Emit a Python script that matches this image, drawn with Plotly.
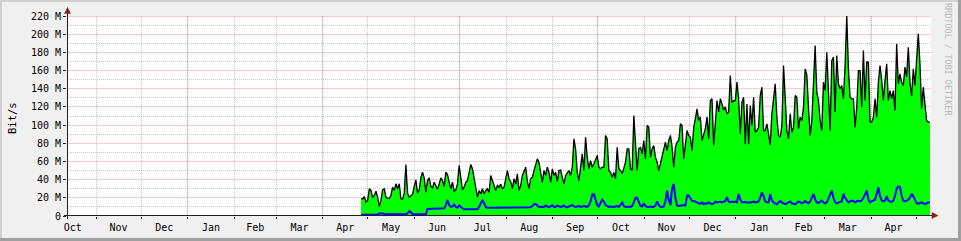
import math
import pandas as pd
import plotly.graph_objects as go

# ---------------- data (Mbit/s) ----------------
inbound_mbps = [
    # late Apr - Jun
    18.9, 18.9, 21.4, 15.2, 17.1, 29.9, 28.1, 20.1, 22.6, 27.3, 20.7, 10.4, 17.1, 28.8, 29.9, 20.7,
    19.6, 19.3, 22.6, 31.7, 28.1, 35.4, 29.9, 35.4, 18.9, 18.5, 25.1, 56.7, 25.1, 20.7, 22.2, 23.7,
    32.5, 39.8, 25.1, 28.8, 42.0, 48.2, 42.0, 26.2, 39.0, 42.0, 32.5, 31.0, 37.2, 33.5, 29.5, 35.4,
    42.0, 39.0, 32.5, 48.2, 45.6, 37.2, 29.9, 37.2, 27.3, 28.8, 35.4, 55.6, 43.5, 28.8, 31.7,
    # Jul - Aug
    37.0, 39.0, 50.0, 56.6, 52.0, 41.0, 28.0, 20.7, 28.0, 24.4, 30.0, 24.4, 28.0, 30.0, 26.0, 44.6,
    39.0, 33.5, 28.0, 33.5, 31.7, 35.0, 30.0, 31.7, 41.0, 50.0, 40.7, 38.0, 30.0, 41.0, 35.0, 46.4,
    28.0, 33.5, 44.6, 50.0, 53.7, 38.0, 30.0, 41.0, 42.6, 50.0, 57.4, 62.9, 59.0, 46.0, 37.0, 50.0,
    44.6, 53.7, 48.0, 37.0, 51.7, 44.6, 48.0, 38.0, 50.0, 50.6, 42.6, 35.0, 44.6, 48.0, 50.0, 44.6,
    # Sep - Oct
    53.7, 84.9, 73.9, 48.2, 39.0, 53.7, 68.4, 50.0, 86.7, 64.7, 52.0, 61.0, 53.7, 57.4, 62.9, 66.6,
    53.7, 52.0, 53.7, 53.7, 88.6, 84.9, 50.0, 48.0, 42.7, 48.0, 41.0, 75.7, 52.0, 50.0, 46.4, 52.0,
    59.2, 73.9, 73.9, 52.0, 50.0, 110.6, 72.0, 50.0, 73.9, 75.7, 68.4, 83.0, 62.9, 99.6, 97.8, 64.7,
    73.9, 77.5, 64.7, 59.2, 50.0, 57.4, 64.7, 73.9, 81.2, 72.0, 83.0, 88.6, 75.7, 53.7, 75.7,
    # Nov - Jan
    81.2, 83.0, 101.4, 99.6, 62.9, 83.0, 94.0, 88.6, 86.7, 72.0, 97.7, 106.9, 117.9, 105.0, 108.8,
    83.0, 90.5, 96.0, 108.8, 84.8, 127.0, 128.9, 77.6, 105.0, 127.0, 114.4, 129.0, 123.3, 116.3,
    120.0, 112.5, 114.4, 154.6, 124.8, 127.0, 127.0, 147.2, 129.0, 90.5, 125.0, 130.7, 79.0, 123.3,
    79.0, 121.6, 99.6, 130.7, 92.2, 94.0, 97.7, 132.5, 141.7, 94.0, 94.0, 101.4, 90.0, 78.0,
    # Jan - Mar
    112.4, 127.0, 145.4, 108.7, 88.6, 86.7, 99.6, 165.6, 134.4, 94.0, 84.9, 112.4, 92.2, 97.7,
    132.5, 130.7, 96.0, 108.7, 105.0, 119.7, 161.9, 155.0, 119.7, 88.6, 105.0, 155.0, 187.6, 136.2,
    127.0, 105.0, 94.0, 147.2, 138.0, 180.2, 136.0, 94.0, 171.0, 174.7, 114.2, 176.6, 145.4, 139.9,
    143.5, 128.9, 165.6, 221.0, 161.9, 130.7, 128.9, 128.9, 97.7,
    # Mar - May
    119.7, 160.0, 160.0, 119.7, 182.0, 127.0, 169.2, 169.2, 103.2, 103.2, 108.7, 128.9, 108.7,
    147.2, 165.6, 149.0, 127.0, 149.0, 167.4, 127.0, 138.0, 129.0, 138.0, 116.0, 189.4, 145.4,
    156.4, 147.0, 143.5, 163.7, 153.0, 185.7, 147.0, 131.8, 162.0, 143.5, 174.7, 200.4, 167.4,
    117.9, 141.7, 121.6, 105.0, 103.2, 103.2,
]

outbound_mbps = [
    1.3, 1.3, 1.3, 1.4, 1.3, 1.3, 1.4, 1.3, 1.3, 1.3,
    1.5, 3.0, 3.0, 2.8, 1.8, 1.8, 1.6, 1.6, 1.8, 1.6,
    1.6, 1.7, 1.6, 1.6, 1.8, 1.7, 1.6, 1.8, 3.0, 5.3,
    4.0, 2.0, 1.8, 1.8, 1.7, 1.7, 1.8, 1.8, 1.7, 1.8,
    7.8, 7.9, 7.8, 8.0, 7.9, 7.8, 8.0, 8.2, 7.9, 8.0,
    8.4, 12.0, 17.8, 12.0, 10.0, 10.5, 12.5, 10.0, 9.0, 11.5,
    9.5, 8.5, 7.5, 7.5, 7.8, 7.5, 7.2, 7.2, 7.0, 7.2,
    7.5, 10.0, 15.0, 17.8, 14.0, 10.0, 9.0, 9.5, 9.2, 9.0,
    9.0, 8.8, 9.0, 9.0, 9.0, 8.8, 9.0, 9.0, 9.2, 9.0,
    9.0, 9.0, 9.2, 9.0, 9.0, 9.5, 9.0, 9.0, 9.2, 9.5,
    9.0, 9.2, 9.5, 11.0, 13.0, 13.2, 11.5, 10.0, 10.2, 10.5,
    10.0, 11.5, 10.0, 9.5, 10.5, 12.0, 10.0, 10.0, 11.5, 11.0,
    10.0, 10.5, 11.5, 10.0, 9.5, 10.5, 11.0, 12.0, 10.5, 10.0,
    10.5, 11.0, 10.0, 10.5, 11.0, 10.5, 10.0, 12.0, 16.0, 23.6,
    24.0, 18.0, 12.0, 10.5, 14.0, 18.0, 16.0, 12.0, 11.0, 10.0,
    10.5, 10.0, 10.0, 10.5, 11.0, 10.0, 13.0, 15.0, 11.0, 10.0,
    10.0, 10.5, 10.0, 11.0, 15.0, 20.0, 20.0, 15.0, 11.0, 10.5,
    14.0, 11.0, 10.0, 10.0, 10.5, 10.0, 10.0, 12.0, 16.0, 12.0,
    10.0, 10.0, 10.5, 16.0, 28.0, 18.0, 12.0, 30.0, 35.4, 20.0,
    11.5, 11.0, 11.5, 11.5, 12.0, 11.5, 22.5, 22.5, 20.0, 16.5,
    16.5, 16.0, 15.0, 14.0, 13.5, 15.0, 13.0, 14.0, 13.5, 15.0,
    14.0, 13.0, 13.5, 16.0, 15.0, 15.5, 16.0, 15.0, 15.5, 16.5,
    20.7, 16.0, 15.0, 16.0, 15.5, 16.0, 15.0, 24.4, 18.0, 15.0,
    15.0, 15.5, 15.0, 14.5, 15.0, 15.0, 16.0, 15.0, 15.5, 16.0,
    20.0, 26.0, 22.0, 16.0, 15.0, 15.0, 24.0, 17.0, 15.0, 14.0,
    13.0, 15.0, 16.5, 15.0, 13.5, 13.0, 14.0, 15.5, 16.0, 14.0,
    13.5, 13.0, 14.5, 16.0, 15.0, 14.0, 15.0, 16.5, 15.0, 14.0,
    16.0, 20.0, 24.4, 18.0, 15.0, 14.5, 15.5, 17.0, 15.0, 14.0,
    15.0, 19.0, 24.0, 28.0, 20.0, 15.0, 14.0, 15.0, 15.5, 16.0,
    24.4, 20.0, 17.0, 15.0, 16.0, 17.0, 16.5, 15.0, 16.0, 17.0,
    16.0, 17.0, 20.0, 24.0, 28.0, 18.0, 15.0, 16.0, 17.0, 18.0,
    24.0, 31.7, 22.0, 17.0, 16.0, 17.0, 22.0, 17.0, 16.0, 15.5,
    17.0, 22.0, 30.0, 32.6, 32.0, 22.0, 17.0, 16.0, 17.0, 18.0,
    20.0, 24.4, 22.0, 17.0, 14.0, 13.5, 14.0, 15.0, 14.0, 13.0,
    14.0, 15.0, 14.5,
]

sample_start = "2005-04-26 10:00"
sample_end = "2006-05-10 05:00"
x_range = ["2004-10-12 16:30", "2006-05-10 22:00"]

y_tick_values = [0, 20, 40, 60, 80, 100, 120, 140, 160, 180, 200, 220]
y_tick_labels = ["0", "20 M", "40 M", "60 M", "80 M", "100 M", "120 M", "140 M",
                 "160 M", "180 M", "200 M", "220 M"]
y_minor_values = [10, 30, 50, 70, 90, 110, 130, 150, 170, 190, 210]
quarter_starts = ["2005-01-01", "2005-04-01", "2005-07-01", "2005-10-01",
                  "2006-01-01", "2006-04-01"]
y_max = 220

dates = pd.date_range(sample_start, sample_end, periods=len(inbound_mbps))

# ---------------- geometry helpers ----------------
W, H = 961, 241
L, R, T, B = 67, 30, 16, 25
PW, PH = W - L - R, H - T - B


def fx(px):
    return (px - L) / PW


def fy(py):
    return (H - B - py) / PH


def snapped_value(v):
    # keep the grid line on a single pixel row (like rrdtool does)
    py = (H - B) - v * PH / y_max
    py = math.floor(py) + 0.5
    return ((H - B) - py) * y_max / PH


FONT = "DejaVu Sans Mono"
GRID = "rgba(144,144,144,0.5)"
MGRID = "rgba(226,96,96,0.32)"
AXIS = "#202020"
ARROW = "#802020"

fig = go.Figure()
fig.add_trace(go.Scatter(
    x=dates, y=inbound_mbps, mode="lines", fill="tozeroy",
    fillcolor="#00FF00", line=dict(color="#000000", width=1.3),
    hoverinfo="skip", showlegend=False))
fig.add_trace(go.Scatter(
    x=dates, y=outbound_mbps, mode="lines",
    line=dict(color="#0000FF", width=2),
    hoverinfo="skip", showlegend=False))

shapes = []
for q in quarter_starts:
    shapes.append(dict(type="line", xref="x", yref="paper", x0=q, x1=q, y0=0, y1=1,
                       line=dict(color=MGRID, width=1), layer="between"))
for v in y_tick_values[1:]:
    sv = snapped_value(v)
    shapes.append(dict(type="line", xref="paper", yref="y", x0=0, x1=1, y0=sv, y1=sv,
                       line=dict(color=MGRID, width=1), layer="between"))

# axes lines and arrows
shapes.append(dict(type="line", xref="paper", yref="paper", x0=fx(67.5), x1=fx(67.5),
                   y0=fy(219), y1=fy(12), line=dict(color=AXIS, width=1), layer="above"))
shapes.append(dict(type="line", xref="paper", yref="paper", x0=fx(64), x1=fx(933),
                   y0=fy(215.5), y1=fy(215.5), line=dict(color=AXIS, width=1), layer="above"))
shapes.append(dict(type="path", xref="paper", yref="paper",
                   path=f"M {fx(64.5)},{fy(13.5)} L {fx(70.5)},{fy(13.5)} L {fx(67.5)},{fy(7.5)} Z",
                   fillcolor=ARROW, line=dict(color=ARROW, width=0.5), layer="above"))
shapes.append(dict(type="path", xref="paper", yref="paper",
                   path=f"M {fx(932)},{fy(212.5)} L {fx(932)},{fy(218.5)} L {fx(938)},{fy(215.5)} Z",
                   fillcolor=ARROW, line=dict(color=ARROW, width=0.5), layer="above"))

# 3D frame of the image
shapes.append(dict(type="rect", xref="paper", yref="paper", x0=fx(0), x1=fx(W), y0=fy(0), y1=fy(2),
                   fillcolor="#D0D0D0", line=dict(width=0), layer="above"))
shapes.append(dict(type="rect", xref="paper", yref="paper", x0=fx(0), x1=fx(2), y0=fy(0), y1=fy(H),
                   fillcolor="#D0D0D0", line=dict(width=0), layer="above"))
shapes.append(dict(type="rect", xref="paper", yref="paper", x0=fx(0), x1=fx(W), y0=fy(H - 3), y1=fy(H),
                   fillcolor="#A0A0A0", line=dict(width=0), layer="above"))
shapes.append(dict(type="rect", xref="paper", yref="paper", x0=fx(W - 3), x1=fx(W), y0=fy(0), y1=fy(H),
                   fillcolor="#A0A0A0", line=dict(width=0), layer="above"))

annotations = [
    dict(text="Bit/s", xref="paper", yref="paper", x=fx(12), y=fy(118), textangle=-90,
         showarrow=False, xanchor="center", yanchor="middle",
         font=dict(family=FONT, size=10.5, color="#000000")),
    dict(text="RRDTOOL / TOBI OETIKER", xref="paper", yref="paper", x=fx(948), y=fy(60),
         textangle=90, showarrow=False, xanchor="center", yanchor="middle",
         font=dict(family=FONT, size=8.5, color="#B8B8B8")),
]

fig.update_layout(
    width=W, height=H,
    margin=dict(l=L, r=R, t=T, b=B, pad=0),
    paper_bgcolor="#F0F0F0", plot_bgcolor="#FFFFFF",
    shapes=shapes, annotations=annotations,
    font=dict(family=FONT, size=10, color="#000000"),
    xaxis=dict(
        type="date", range=x_range, dtick="M1", tick0="2004-11-01",
        tickformat="%b", ticklabelmode="period", automargin=False,
        showgrid=True, gridcolor=GRID, gridwidth=1, griddash="1px,1px",
        ticks="outside", ticklen=2, tickcolor=AXIS,
        showline=False, zeroline=False, fixedrange=True,
        tickfont=dict(family=FONT, size=10, color="#000000"),
    ),
    yaxis=dict(
        range=[0, y_max], tickmode="array", tickvals=y_tick_values, ticktext=y_tick_labels,
        automargin=False,
        showgrid=False,
        minor=dict(tickmode="array", tickvals=y_minor_values, showgrid=True,
                   gridcolor=GRID, gridwidth=1, griddash="1px,1px"),
        ticks="outside", ticklen=3, tickcolor=AXIS,
        showline=False, zeroline=False, fixedrange=True,
        tickfont=dict(family=FONT, size=10, color="#000000"),
    ),
)

fig.write_html("out.html")
